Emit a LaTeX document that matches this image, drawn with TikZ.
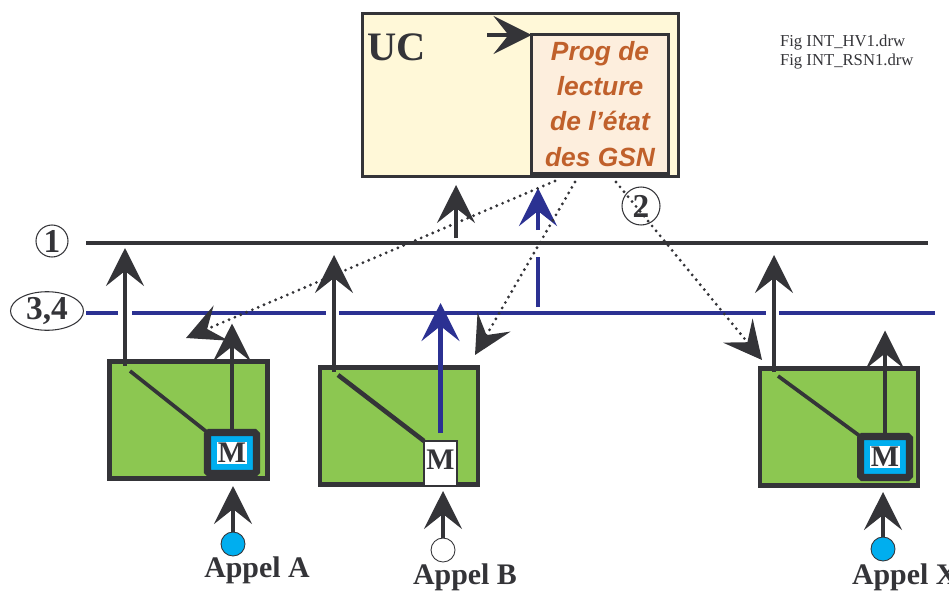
\documentclass[tikz,border=0pt]{standalone}
\usepackage{fontspec}
\setmainfont{Liberation Serif}
\setsansfont{Liberation Sans}
\usetikzlibrary{arrows.meta,shapes.geometric}

\definecolor{dark}{HTML}{343438}
\definecolor{navy}{HTML}{2B3192}
\definecolor{gsngreen}{HTML}{8CC751}
\definecolor{ucyellow}{HTML}{FFF8D8}
\definecolor{progpeach}{HTML}{FDEEDD}
\definecolor{progtext}{HTML}{C0602B}
\definecolor{callcyan}{HTML}{00AEEF}

\begin{document}
\begin{tikzpicture}[
		x=0.02cm, y=-0.02cm,
		every node/.style={inner sep=0pt, outer sep=0pt},
		bus/.style={line width=2.1pt, dark},
		bluebus/.style={line width=2.5pt, navy},
		wire/.style={line width=2.1pt, dark},
		bigarr/.style={line width=2.1pt, dark, -{Stealth[length=0.76cm, width=0.76cm, inset=0.3cm]}},
		bluearr/.style={bigarr, navy, line width=2.6pt},
		dots/.style={dark, line width=1.8pt, line cap=round, dash pattern=on 0pt off 3.6pt, -{Stealth[length=0.76cm, width=0.76cm, inset=0.3cm]}},
		gsn/.style={rectangle, draw=dark, line width=2.8pt, fill=gsngreen, minimum width=3.16cm, minimum height=2.34cm},
		mcall/.style={rectangle, draw=dark, line width=4pt, fill=callcyan, rounded corners=1pt, minimum width=0.98cm, minimum height=0.82cm},
		mletter/.style={fill=white, text=dark, font=\bfseries\fontsize{17}{17}\selectfont, inner sep=0.6pt},
		call/.style={circle, draw=dark, line width=0.5pt, minimum size=0.48cm},
		appel/.style={font=\bfseries\fontsize{17}{17}\selectfont, text=dark},
		busname/.style={font=\bfseries\fontsize{19}{19}\selectfont, text=dark, draw=dark, line width=0.6pt}
	]
  \useasboundingbox (0,0) rectangle (949,591);

  \node (uc) [rectangle, draw=dark, line width=1.9pt, fill=ucyellow, minimum width=6.32cm, minimum height=3.26cm] at (520.5,95) {};
  \node (prog) [rectangle, draw=dark, line width=1.9pt, fill=progpeach, minimum width=2.74cm, minimum height=2.78cm, text=progtext, align=center, font=\sffamily\bfseries\itshape\fontsize{15}{20}\selectfont] at (600,104) {Prog de\\lecture\\de l\symbol{39}état\\des GSN};
  \node (ucname) [font=\bfseries\fontsize{23}{23}\selectfont, text=dark] at (397,47) {UC};
  \coordinate (progin) at (487,35);
  \draw[bigarr] (progin) -- (progin -| prog.west);
  \node (fig) [anchor=west, align=left, text=dark, font=\fontsize{9.5}{10.5}\selectfont] at (780,52) {Fig INT\_HV1.drw\\Fig INT\_RSN1.drw};

  \coordinate (l1w) at (86,243);
  \coordinate (l1e) at (928,243);
  \coordinate (b34w) at (86,313);
  \coordinate (b34e) at (935,313);
  \draw[bus] (l1w) -- (l1e);
  \draw[bluebus] (b34w) -- (118,313) (132,313) -- (326,313) (339,313) -- (766,313) (779,313) -- (b34e);
  \node (n1) [busname, circle, minimum size=0.64cm] at (52,241) {1};
  \node (n34) [busname, ellipse, minimum width=1.46cm, minimum height=0.76cm] at (47,311) {3,4};
  \node (n2) [busname, circle, minimum size=0.76cm] at (641,206) {2};

  \node (gA) [gsn] at (188.5,420) {};
  \node (gB) [gsn] at (399,426) {};
  \node (gX) [gsn] at (839,427) {};
  \node (mA) [mcall] at (232,453) {};
  \node (mAl) [mletter] at (mA) {M};
  \node (mB) [rectangle, draw=dark, line width=0.6pt, fill=white, minimum width=0.66cm, minimum height=0.9cm] at (440.5,463.5) {};
  \node (mBl) [mletter] at (440.5,460) {M};
  \node (mX) [mcall] at (885,457) {};
  \node (mXl) [mletter] at (mX) {M};

  \coordinate (sA) at (125,366);
  \coordinate (sB) at (334,372);
  \coordinate (sX) at (774,372);
  \draw[wire] ([shift={(5,5)}]sA) -- (mA.north west);
  \draw[wire, line width=2.6pt] ([shift={(4,3)}]sB) -- (mB.north west);
  \draw[wire] ([shift={(4,4)}]sX) -- (mX.north west);
  \draw[bigarr] (sA) -- (125,248);
  \draw[bigarr] (sB) -- (334,255);
  \draw[bigarr] (sX) -- (774,255);

  \draw[bigarr] (mA.north) -- ++(0,-109);
  \draw[bluearr] (mB.north) ++(0,-8) -- (440.5,303);
  \draw[bigarr] (mX.north) -- ++(0,-106);

  \node (cA) [call, fill=callcyan] at (233,544) {};
  \node (cB) [call, fill=white] at (443,550) {};
  \node (cX) [call, fill=callcyan] at (883,549) {};
  \draw[bigarr] (cA.north) -- (233,486);
  \draw[bigarr] (cB.north) -- (443,491);
  \draw[bigarr] (cX.north) -- (883,492);
  \node (appA) [appel] at (257,570) {Appel A};
  \node (appB) [appel] at (465,577) {Appel B};
  \node (appX) [appel, anchor=west] at (852,577) {Appel X};

  \draw[bigarr] (456,238) -- (456,185);
  \draw[bluebus, line width=2.6pt] (538,307) -- (538,257);
  \draw[bluearr] (538,230) -- (538,188);

  \draw[dots] (555,181) -- (186,338);
  \draw[dots] (575,182) -- (475,355);
  \draw[dots] (616,182) -- (762,360);
\end{tikzpicture}
\end{document}
